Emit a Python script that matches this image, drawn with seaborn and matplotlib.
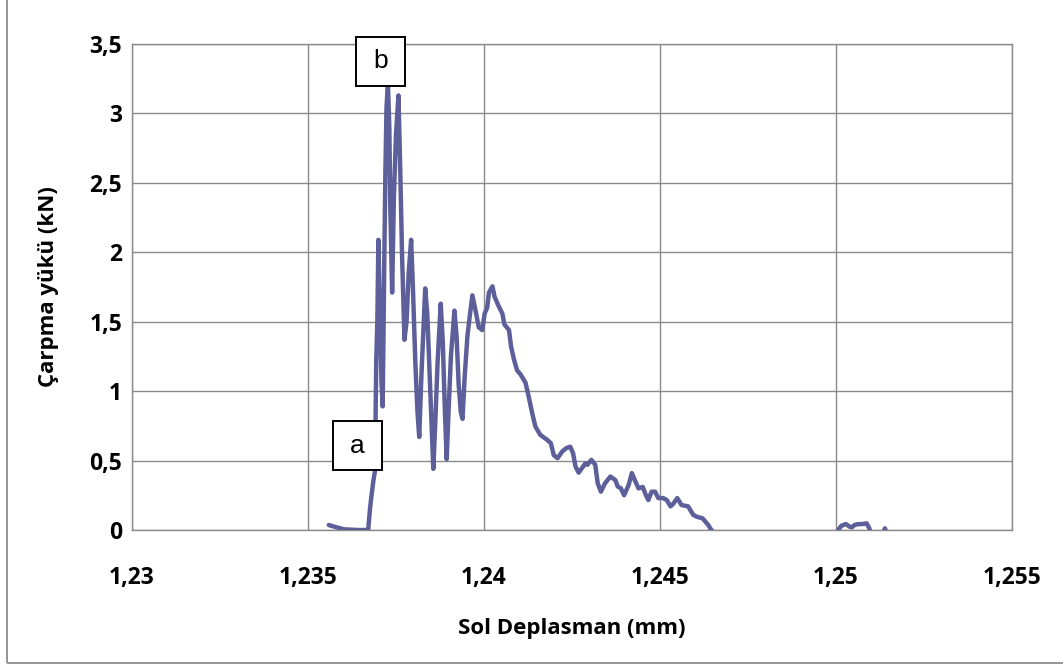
import numpy as np
import pandas as pd
import matplotlib
matplotlib.use("Agg")
import matplotlib.pyplot as plt
from matplotlib.patches import Rectangle
from matplotlib.transforms import IdentityTransform
import seaborn as sns

# Left-side displacement (mm) and impact load (kN)
displacement = [
    1.23559, 1.23580, 1.23602, 1.23640, 1.23671, 1.23676, 1.23680, 1.23686,
    1.23690, 1.23692, 1.23694, 1.23697, 1.23700, 1.23704, 1.23709, 1.23712,
    1.23714, 1.23717, 1.23720, 1.23723, 1.23727, 1.23731, 1.23734, 1.23739,
    1.23744, 1.23750, 1.23757, 1.23762, 1.23767, 1.23774, 1.23780, 1.23786,
    1.23793, 1.23798, 1.23805, 1.23811, 1.23816, 1.23822, 1.23828, 1.23833,
    1.23839, 1.23846, 1.23852, 1.23856, 1.23862, 1.23868, 1.23877, 1.23883,
    1.23889, 1.23894, 1.23900, 1.23906, 1.23916, 1.23922, 1.23928, 1.23934,
    1.23939, 1.23945, 1.23953, 1.23960, 1.23967, 1.23976, 1.23985, 1.23995,
    1.24002, 1.24009, 1.24014, 1.24024, 1.24030, 1.24042, 1.24052, 1.24058,
    1.24071, 1.24077, 1.24085, 1.24094, 1.24104, 1.24118, 1.24127, 1.24137,
    1.24146, 1.24160, 1.24179, 1.24190, 1.24198, 1.24209, 1.24222, 1.24234,
    1.24245, 1.24253, 1.24260, 1.24269, 1.24278, 1.24288, 1.24294, 1.24305,
    1.24316, 1.24323, 1.24332, 1.24344, 1.24359, 1.24373, 1.24380, 1.24389,
    1.24398, 1.24411, 1.24420, 1.24430, 1.24439, 1.24451, 1.24460, 1.24467,
    1.24476, 1.24486, 1.24495, 1.24509, 1.24519, 1.24530, 1.24538, 1.24549,
    1.24561, 1.24580, 1.24594, 1.24604, 1.24621, 1.24637, 1.24646, 1.24660,
    1.25000, 1.25006, 1.25015, 1.25028, 1.25038, 1.25045, 1.25052, 1.25059,
    1.25075, 1.25087, 1.25095, 1.25100, 1.25130, 1.25139, 1.25148,
]
load = [
    0.036, 0.020, 0.005, 0.000, 0.000, 0.150, 0.240, 0.360,
    0.420, 0.800, 1.230, 1.500, 2.090, 1.600, 1.050, 0.890,
    1.300, 2.000, 2.600, 3.040, 3.220, 2.900, 2.300, 1.710,
    2.400, 2.850, 3.130, 2.600, 2.000, 1.370, 1.500, 1.850,
    2.090, 1.750, 1.200, 0.850, 0.670, 1.100, 1.450, 1.740,
    1.550, 1.100, 0.700, 0.440, 0.800, 1.200, 1.630, 1.350,
    0.850, 0.510, 0.900, 1.250, 1.580, 1.400, 1.050, 0.850,
    0.800, 1.100, 1.400, 1.550, 1.690, 1.580, 1.460, 1.440,
    1.560, 1.600, 1.710, 1.755, 1.680, 1.610, 1.560, 1.480,
    1.440, 1.320, 1.230, 1.150, 1.120, 1.060, 0.960, 0.840,
    0.745, 0.685, 0.650, 0.625, 0.540, 0.517, 0.565, 0.590,
    0.600, 0.553, 0.457, 0.413, 0.445, 0.480, 0.470, 0.505,
    0.470, 0.337, 0.276, 0.337, 0.385, 0.360, 0.313, 0.300,
    0.250, 0.325, 0.410, 0.350, 0.300, 0.310, 0.250, 0.216,
    0.276, 0.276, 0.230, 0.230, 0.216, 0.170, 0.190, 0.230,
    0.180, 0.170, 0.110, 0.096, 0.084, 0.036, 0.000, -0.050,
    -0.050, 0.000, 0.030, 0.043, 0.025, 0.019, 0.035, 0.041,
    0.043, 0.048, 0.010, -0.050, -0.050, 0.012, -0.050,
]

x_ticks = [1.23, 1.235, 1.24, 1.245, 1.25, 1.255]
x_tick_labels = ["1,23", "1,235", "1,24", "1,245", "1,25", "1,255"]
y_ticks = [0, 0.5, 1, 1.5, 2, 2.5, 3, 3.5]
y_tick_labels = ["0", "0,5", "1", "1,5", "2", "2,5", "3", "3,5"]

x_label = "Sol Deplasman (mm)"
y_label = "Çarpma yükü (kN)"

# Callout markers: (text, x, y) in data units
callouts = [("a", 1.23641, 0.605), ("b", 1.23706, 3.374)]

df = pd.DataFrame({"disp": displacement, "load": load})

sns.set_theme(style="white")
plt.rcParams["font.family"] = ["Open Sans", "DejaVu Sans"]

W, H = 1063, 666
fig = plt.figure(figsize=(W / 100, H / 100), dpi=100)
fig.patch.set_facecolor("white")

# chart area border
fig.add_artist(Rectangle((7 / W, 3 / H), 1.2, 1.2, transform=fig.transFigure,
                         fill=False, edgecolor="#8c8c8c", linewidth=1.3))

ax = fig.add_axes([132 / W, 1 - 530 / H, (1012 - 132) / W, (530 - 44) / H])

grid_c = "#8a8a8a"
for xv in x_ticks:
    ax.axvline(xv, color=grid_c, lw=1.0, zorder=1)
for yv in y_ticks:
    ax.axhline(yv, color=grid_c, lw=1.0, zorder=1)

sns.lineplot(data=df, x="disp", y="load", sort=False, estimator=None,
             color="#5d5f9b", linewidth=3.2, ax=ax, zorder=3)

ax.set_xlim(1.23, 1.255)
ax.set_ylim(0, 3.5)
ax.set_xticks(x_ticks)
ax.set_xticklabels(x_tick_labels)
ax.set_yticks(y_ticks)
ax.set_yticklabels(y_tick_labels)

for s in ax.spines.values():
    s.set_color(grid_c)
    s.set_linewidth(1.0)

fs = 16.5
ax.tick_params(axis="x", length=0, pad=26, labelsize=fs)
ax.tick_params(axis="y", length=0, pad=7, labelsize=fs)
for lab in ax.get_xticklabels() + ax.get_yticklabels():
    lab.set_fontweight("bold")
    lab.set_color("#000000")

ax.set_xlabel(x_label, fontsize=fs - 0.5, fontweight="bold", color="black", labelpad=20)
ax.set_ylabel(y_label, fontsize=fs - 0.5, fontweight="bold", color="black", labelpad=22)

# square callout boxes (49 px) drawn over the curve
box = 49
for text, xv, yv in callouts:
    px, py = ax.transData.transform((xv, yv))
    ax.add_patch(Rectangle((px - box / 2, py - box / 2), box, box,
                           transform=IdentityTransform(), facecolor="white",
                           edgecolor="black", linewidth=1.4, zorder=5,
                           clip_on=False))
    ax.text(xv, yv, text, ha="center", va="center", fontsize=19,
            family=["Liberation Sans"], color="black", zorder=6)

fig.savefig("out.png", dpi=100, facecolor="white")
